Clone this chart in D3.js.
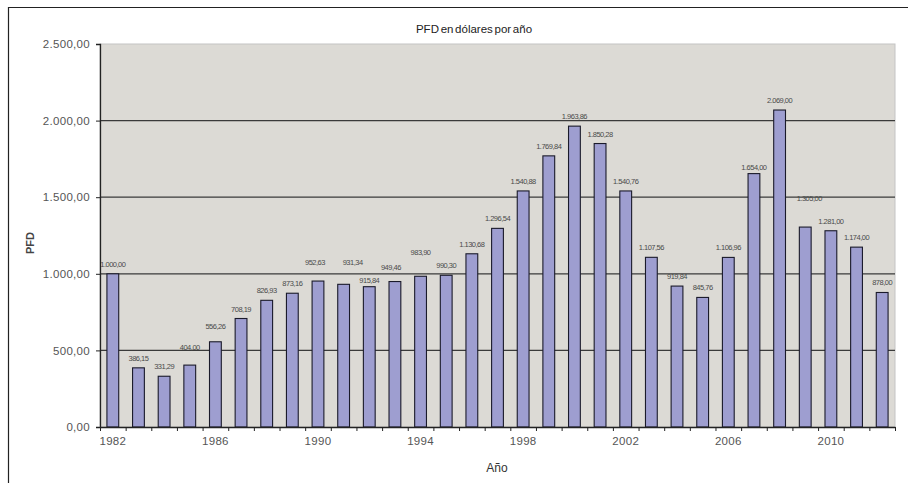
<!DOCTYPE html>
<html>
<head>
<meta charset="utf-8">
<script src="https://cdn.jsdelivr.net/npm/d3@7/dist/d3.min.js"></script>
<style>
  html, body { margin: 0; padding: 0; background: #fff; }
  svg { display: block; }
  text { font-family: Arial, "Liberation Sans", sans-serif; }
</style>
</head>
<body>
<svg id="chart" width="908" height="483"></svg>
<script>
// Alaska Permanent Fund Dividend, dollars per year
const years = [1982, 1983, 1984, 1985, 1986, 1987, 1988, 1989, 1990, 1991,
               1992, 1993, 1994, 1995, 1996, 1997, 1998, 1999, 2000, 2001,
               2002, 2003, 2004, 2005, 2006, 2007, 2008, 2009, 2010, 2011, 2012];
const pfd = [1000.00, 386.15, 331.29, 404.00, 556.26, 708.19, 826.93, 873.16, 952.63, 931.34,
             915.84, 949.46, 983.90, 990.30, 1130.68, 1296.54, 1540.88, 1769.84, 1963.86, 1850.28,
             1540.76, 1107.56, 919.84, 845.76, 1106.96, 1654.00, 2069.00, 1305.00, 1281.00, 1174.00, 878.00];
const yTicks = [0, 500, 1000, 1500, 2000, 2500];
const yearLabels = [1982, 1986, 1990, 1994, 1998, 2002, 2006, 2010];
const title = "PFD en dólares por año";
const xTitle = "Año";
const yTitle = "PFD";

const es = d3.formatLocale({ decimal: ",", thousands: ".", grouping: [3], currency: ["", ""] });
const fmt = es.format(",.2f");

const svg = d3.select("#chart");
const plot = { left: 100, right: 895, top: 44, bottom: 427 };

// outer frame (top and left edges)
svg.append("path")
  .attr("d", "M8.5,483 V7.5 H908")
  .attr("fill", "none").attr("stroke", "#222").attr("stroke-width", 1.2);

const x = d3.scaleBand().domain(years).range([plot.left, plot.right])
  .paddingInner(0.54).paddingOuter(0.27);
const y = d3.scaleLinear().domain([0, 2500]).range([plot.bottom, plot.top]);

// plot background
svg.append("rect")
  .attr("x", plot.left).attr("y", plot.top)
  .attr("width", plot.right - plot.left).attr("height", plot.bottom - plot.top)
  .attr("fill", "#dcdad5").attr("stroke", "#c4c4c4").attr("stroke-width", 1);

// gridlines
svg.append("g").selectAll("line")
  .data(yTicks.filter(d => d > 0 && d < 2500))
  .join("line")
  .attr("x1", plot.left).attr("x2", plot.right)
  .attr("y1", d => y(d)).attr("y2", d => y(d))
  .attr("stroke", "#3a3a3a").attr("stroke-width", 1.3);

// bars
svg.append("g").selectAll("rect")
  .data(years.map((yr, i) => ({ yr, v: pfd[i] })))
  .join("rect")
  .attr("x", d => x(d.yr))
  .attr("y", d => y(d.v))
  .attr("width", x.bandwidth())
  .attr("height", d => y(0) - y(d.v))
  .attr("fill", "#9e9ed0")
  .attr("stroke", "#1a1a2a").attr("stroke-width", 1.1);

// value labels; a few are nudged to avoid crowding
const lift = { 1985: 8, 1986: 6, 1990: 9, 1991: 12, 1992: -3, 1993: 5, 1994: 14, 2007: -3, 2009: 19 };
const shift = { 1991: 9, 1990: -3, 1993: -4, 2009: 4 };
svg.append("g").selectAll("text")
  .data(years.map((yr, i) => ({ yr, v: pfd[i] })))
  .join("text")
  .attr("x", d => x(d.yr) + x.bandwidth() / 2 + (shift[d.yr] || 0))
  .attr("y", d => y(d.v) - 7 - (lift[d.yr] || 0))
  .attr("text-anchor", "middle")
  .attr("font-size", 7.5)
  .attr("letter-spacing", -0.5)
  .attr("fill", "#4a4a4a")
  .text(d => fmt(d.v));

// y axis
const yAxis = svg.append("g")
  .attr("transform", `translate(${plot.left},0)`)
  .call(d3.axisLeft(y).tickValues(yTicks).tickFormat(fmt).tickSize(4).tickPadding(6));
yAxis.select(".domain").attr("stroke", "#222").attr("stroke-width", 1.3);
yAxis.selectAll(".tick line").attr("stroke", "#222");
yAxis.selectAll(".tick text")
  .attr("font-size", 11.5).attr("fill", "#555").attr("letter-spacing", 0.3)
  .style("font-family", "Arial, 'Liberation Sans', sans-serif");

// x axis: tick marks on category boundaries
const xb = d3.scaleLinear().domain([0, years.length]).range([plot.left, plot.right]);
const xAxis = svg.append("g")
  .attr("transform", `translate(0,${plot.bottom})`)
  .call(d3.axisBottom(xb).tickValues(d3.range(years.length + 1)).tickFormat("").tickSize(4).tickSizeOuter(0));
xAxis.select(".domain").attr("stroke", "#222").attr("stroke-width", 1.3);
xAxis.selectAll(".tick line").attr("stroke", "#222");

// x axis: year labels at bar centres
const xLab = svg.append("g")
  .attr("transform", `translate(0,${plot.bottom})`)
  .call(d3.axisBottom(x).tickValues(yearLabels).tickSize(0).tickPadding(10));
xLab.select(".domain").remove();
xLab.selectAll(".tick text")
  .attr("font-size", 11.5).attr("fill", "#555").attr("letter-spacing", 0.3)
  .style("font-family", "Arial, 'Liberation Sans', sans-serif");

// titles
svg.append("text")
  .attr("x", 474).attr("y", 33)
  .attr("text-anchor", "middle")
  .attr("font-size", 11.5).attr("fill", "#222").attr("word-spacing", -1.5)
  .text(title);

svg.append("text")
  .attr("x", 497).attr("y", 472)
  .attr("text-anchor", "middle")
  .attr("font-size", 12).attr("fill", "#333")
  .text(xTitle);

svg.append("text")
  .attr("transform", "translate(34,243) rotate(-90)")
  .attr("text-anchor", "middle")
  .attr("font-size", 11).attr("font-weight", "bold").attr("fill", "#444")
  .text(yTitle);
</script>
</body>
</html>
